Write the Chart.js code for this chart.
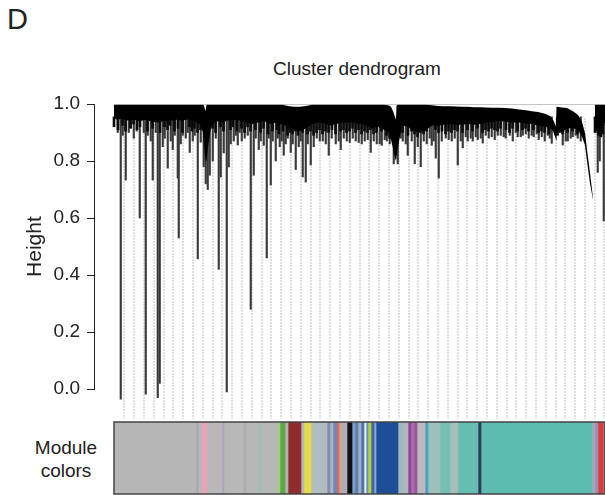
<!DOCTYPE html>
<html>
<head>
<meta charset="utf-8">
<script src="https://cdn.jsdelivr.net/npm/chart.js@4.4.1/dist/chart.umd.min.js"></script>
<style>
  body { margin: 0; background: #fff; width: 605px; height: 495px; position: relative; overflow: hidden;
         font-family: "Liberation Sans", Arial, sans-serif; color: #222; }
  canvas { position: absolute; left: 0; }
  #dendro { top: 0; }
  #colors { top: 420px; }
  .lab { position: absolute; white-space: nowrap; }
</style>
</head>
<body>
<div class="lab" style="left:7px;top:3px;font-size:29px">D</div>
<div class="lab" style="left:232px;top:58px;width:250px;text-align:center;font-size:19px">Cluster dendrogram</div>
<div class="lab" style="left:16px;top:436px;width:100px;text-align:center;font-size:19px;line-height:23px">Module<br>colors</div>
<canvas id="dendro" width="605" height="440"></canvas>
<canvas id="colors" width="605" height="75"></canvas>
<script>
// leaf order runs 0..491 along the dendrogram
const yTicks = [0, 0.2, 0.4, 0.6, 0.8, 1.0]

// dotted guide lines
const guideX = [10, 20, 30, 40, 50, 59, 69, 79, 89, 99, 108, 118, 128, 138, 148, 157, 167, 177, 187, 197,
  206, 216, 226, 236, 246, 255, 265, 275, 285, 295, 304, 314, 324, 334, 344, 353, 363, 373, 383, 393,
  402, 412, 422, 432, 442, 451, 461, 471, 481, 490]

// dense merged part of the tree: upper and lower edge
const coreX = [0, 3, 8, 14, 20, 26, 32, 38, 44, 50, 56, 62, 68, 74, 80, 86, 89, 90, 91.5, 92.5, 94, 97,
  102, 108, 114, 120, 126, 132, 138, 144, 150, 156, 162, 168, 174, 180, 186, 192, 198, 204, 210, 216,
  222, 228, 234, 240, 246, 252, 258, 264, 270, 275, 277, 279, 281, 282, 282.5, 284, 288, 294, 300, 306,
  312, 318, 324, 330, 336, 342, 348, 354, 360, 366, 372, 378, 384, 391, 398, 405, 412, 418, 424, 431,
  436, 439, 441, 442, 442.5, 443, 448, 453, 459, 464, 468, 471, 473, 476, 479, 480, 481, 484, 487, 491]
const coreTop = [.997, .997, .997, .997, .997, .997, .997, .997, .997, .997, .997, .997, .997, .997, .997,
  .997, .997, .995, .975, .997, .997, .997, .997, .997, .997, .997, .997, .997, .997, .997, .997, .997,
  .997, .997, .993, .99, .99, .993, .997, .997, .997, .997, .997, .997, .997, .997, .997, .997, .997,
  .997, .997, .995, .99, .975, .955, .945, .995, .997, .997, .997, .997, .997, .997, .996, .993, .992, .992,
  .991, .99, .99, .989, .989, .988, .987, .987, .986, .984, .981, .978, .975, .972, .966, .958, .945,
  .93, .92, .99, .99, .988, .986, .975, .961, .937, .898, .84, .758, .67, null, .997, .997, .997, .997]
const coreLow = [.95, .945, .948, .942, .945, .94, .945, .938, .935, .94, .94, .945, .942, .946, .94, .93,
  .90, .85, .80, .80, .85, .92, .94, .935, .942, .945, .942, .936, .93, .935, .94, .93, .935, .928, .92,
  .91, .905, .915, .93, .935, .932, .925, .93, .935, .936, .935, .93, .925, .915, .92, .91, .90, .875, .845,
  .81, .80, .80, .85, .925, .92, .905, .90, .91, .925, .925, .927, .93, .927, .927, .93, .927, .93, .935,
  .937, .94, .939, .935, .935, .932, .93, .925, .92, .915, .905, .885, .875, .87, .915, .90, .915, .915,
  .91, .885, .855, .80, .72, .665, null, .92, .885, .92, .935]

// single leaves hanging below the dense part
const dropX = [3, 6, 8, 11, 14, 16, 19, 22, 25, 29, 31, 33, 36, 38, 41, 43, 45, 48, 50, 53, 56, 58, 60,
  63, 64, 66, 68, 71, 73, 75, 78, 80, 83, 86, 89, 91, 93, 95, 98, 101, 104, 106, 109, 112, 114, 116, 119,
  121, 123, 125, 127, 130, 133, 136, 139, 141, 144, 146, 149, 152, 154, 156, 158, 161, 163, 165, 167, 169,
  171, 173, 176, 178, 181, 184, 186, 188, 191, 193, 196, 199, 202, 205, 208, 211, 214, 217, 221, 224, 226,
  229, 232, 235, 238, 241, 244, 247, 250, 253, 256, 259, 262, 265, 267, 270, 272, 275, 279, 283, 286, 288,
  291, 293, 297, 300, 303, 306, 309, 312, 315, 317, 319, 321, 324, 327, 331, 334, 337, 340, 343, 346, 348,
  351, 353, 356, 358, 361, 363, 366, 368, 371, 374, 377, 380, 383, 386, 389, 391, 395, 398, 401, 403, 406,
  408, 411, 414, 417, 419, 422, 424, 427, 430, 433, 435, 437, 448, 451, 453, 456, 458, 461, 463, 466, 483,
  485, 489]
const dropLow = [.90, -.035, .89, .733, .90, .916, .88, .905, .60, .90, -.018, .89, .87, .733, .90, -.03,
  .02, .85, .88, .775, .87, .84, .89, .74, .53, .86, .89, .88, .90, .83, .87, .89, .457, .866, .78, .72,
  .70, .75, .80, .88, .42, .744, .828, -.01, .779, .86, .87, .89, .856, .90, .87, .88, .89, .28, .75, .88,
  .84, .87, .855, .46, .88, .716, .87, .80, .88, .85, .87, .82, .86, .88, .83, .86, .77, .85, .87, .744,
  .726, .86, .786, .85, .88, .87, .87, .86, .82, .88, .86, .87, .84, .88, .87, .865, .88, .87, .865, .86,
  .87, .875, .83, .87, .86, .86, .855, .875, .87, .86, .79, .79, .88, .87, .86, .82, .87, .79, .85, .78,
  .87, .86, .88, .855, .87, .81, .74, .87, .88, .875, .87, .88, .786, .87, .846, .885, .87, .88, .87, .885,
  .875, .88, .863, .89, .88, .885, .875, .89, .89, .885, .88, .89, .87, .90, .885, .885, .89, .895, .88,
  .89, .885, .895, .875, .885, .87, .89, .88, .862, .856, .87, .87, .88, .885, .89, .88, .87, .76, .80, .59]
const dropTop = 0.955

// short leaves filling the dense fringe
const shortX = [1, 5, 9.5, 12.5, 17.5, 20.5, 24, 27, 34.5, 39.5, 47, 51.5, 54.5, 57, 61.5, 65, 69.5, 76.5,
  79, 81.5, 84.5, 87.5, 99.5, 102.5, 107.5, 110.5, 117.5, 120, 124, 128.5, 131.5, 134.5, 137.5, 142.5,
  147.5, 150.5, 155, 159.5, 164, 166, 170, 174.5, 177, 179.5, 182.5, 185, 189.5, 194.5, 197.5, 200.5,
  203.5, 206.5, 209.5, 212.5, 215.5, 219, 222.5, 227.5, 230.5, 233.5, 236.5, 239.5, 242.5, 245.5, 248.5,
  251.5, 254.5, 257.5, 260.5, 263.5, 268.5, 273.5, 276.5, 284.5, 289.5, 295, 298.5, 301.5, 304.5, 307.5,
  310.5, 313.5, 322.5, 325.5, 329, 332.5, 335.5, 338.5, 341.5, 344.5, 349.5, 354.5, 359.5, 364.5, 369.5,
  372.5, 375.5, 378.5, 381.5, 384.5, 387.5, 393, 396.5, 399.5, 404.5, 409.5, 412.5, 415.5, 420.5, 425.5,
  428.5, 431.5, 436, 444.5, 446.5, 449.5, 454.5, 459.5, 464.5, 482, 486.5, 488, 490]
const shortLow = [.92, .91, .925, .905, .915, .93, .91, .92, .905, .915, .90, .92, .91, .925, .905, .915,
  .90, .92, .905, .915, .90, .91, .915, .90, .92, .905, .91, .92, .905, .915, .90, .92, .905, .91, .90,
  .915, .895, .905, .91, .895, .905, .89, .90, .895, .905, .89, .90, .895, .905, .89, .90, .91, .895,
  .905, .90, .91, .895, .905, .91, .90, .905, .915, .90, .91, .895, .905, .90, .91, .895, .90, .905, .89,
  .88, .895, .90, .89, .905, .895, .885, .90, .895, .905, .91, .90, .905, .895, .905, .90, .91, .905,
  .90, .91, .905, .915, .90, .91, .905, .915, .91, .905, .915, .91, .90, .915, .905, .91, .915, .905,
  .91, .90, .905, .90, .895, .89, .90, .895, .90, .905, .895, .90, .89, .885, .895, .90]

// module colour strip, left to right
const moduleWidths = [82, 2, 4, 5, 15, 2, 19, 3, 12, 3, 16, 3, 5, 3, 13, 3, 7, 7, 5, 4, 3, 3, 4, 2, 3, 5,
  5, 3, 3, 3, 3, 2, 2, 3, 3, 2, 22, 4, 6, 3, 3, 3, 8, 3, 12, 10, 8, 20, 3, 111, 3, 3, 5, 2]
const moduleColors = ["#b6b6b6", "#a8a6b0", "#b8b8b8", "#e9a3b4", "#b9b7b9", "#aaa6ba", "#b8b8b8",
  "#a9b1b7", "#b7b7b7", "#9fbdb9", "#b5b8b7", "#a3c98a", "#5aaa42", "#b3b3b3", "#8e2c30", "#b8b8b8",
  "#e4dd49", "#b4bcc0", "#a8bfc3", "#b8b8b8", "#7d8fb5", "#aab4c0", "#6e88b0", "#e06c5e", "#d0a58a",
  "#a9b0bc", "#111111", "#7f9fc4", "#5c7fb0", "#9fb3c6", "#4f74ad", "#e8eef2", "#6f8fbf", "#b5d23c",
  "#3f65a6", "#8ea9cf", "#1f4e98", "#9fb8c0", "#adb8bd", "#8e4a96", "#b06aa8", "#8b5aa0", "#c0b8c0",
  "#4aa3c0", "#9cc0bc", "#74beb4", "#a8bdbb", "#66bdb2", "#2c3c5a", "#5cbcb0", "#a7a7b8", "#9a8fb0",
  "#e0393a", "#8a8a8a"]

Chart.defaults.font.family = '"Liberation Sans", Arial, sans-serif'
Chart.defaults.color = "#222"

const guideData = guideX.flatMap(x => [{x, y: 0.95}, {x, y: -0.105}, {x, y: null}])

const axisPlugin = {
  id: "axisLine",
  afterDraw(chart) {
    const {ctx, chartArea, scales} = chart
    const y0 = scales.y.getPixelForValue(0)
    const y1 = scales.y.getPixelForValue(1)
    ctx.save()
    ctx.strokeStyle = "#222"
    ctx.lineWidth = 1
    ctx.beginPath()
    ctx.moveTo(chartArea.left - 0.5, y0)
    ctx.lineTo(chartArea.left - 0.5, y1)
    ctx.stroke()
    ctx.fillStyle = "#222"
    ctx.font = '21px "Liberation Sans", Arial, sans-serif'
    ctx.translate(35, (y0 + y1) / 2)
    ctx.rotate(-Math.PI / 2)
    ctx.textAlign = "center"
    ctx.textBaseline = "middle"
    ctx.fillText("Height", 0, 0)
    ctx.restore()
  }
}

new Chart(document.getElementById("dendro"), {
  type: "line",
  data: {
    datasets: [
      {
        label: "guides", data: guideData, borderColor: "#b8b8b8", borderWidth: 1.2,
        borderDash: [1.5, 1.5], pointRadius: 0, spanGaps: false, order: 7,
      },
      {
        type: "bar", label: "leaves", data: dropX.map((x, i) => ({x, y: [dropLow[i], dropTop]})),
        backgroundColor: "#3a3a3a", barThickness: 1.5, order: 5,
      },
      {
        label: "top", data: coreX.map((x, i) => ({x, y: coreTop[i]})), borderWidth: 0,
        pointRadius: 0, fill: false, order: 3,
      },
      {
        label: "core", data: coreX.map((x, i) => ({x, y: coreLow[i]})), borderWidth: 0,
        pointRadius: 0, fill: "-1", backgroundColor: "#000", order: 2,
      },
      {
        label: "root", data: [{x: 0, y: 1}, {x: 491, y: 1}], borderColor: "#8a8a8a",
        borderWidth: 1.2, pointRadius: 0, order: 1,
      },
      {
        type: "bar", label: "fringe", data: shortX.map((x, i) => ({x, y: [shortLow[i], dropTop]})),
        backgroundColor: "#0a0a0a", barThickness: 2, order: 4,
      },
    ],
  },
  options: {
    responsive: false,
    animation: false,
    events: [],
    layout: { padding: { top: 104, bottom: 21, left: 0, right: 0 } },
    plugins: { legend: { display: false }, tooltip: { enabled: false } },
    scales: {
      x: { type: "linear", min: -19, max: 491, offset: false, display: false },
      y: {
        min: -0.105, max: 1.0,
        afterBuildTicks: s => { s.ticks = yTicks.map(v => ({value: v})) },
        afterFit: s => { s.width = 95 },
        ticks: { callback: v => v.toFixed(1), font: { size: 19 }, color: "#222", padding: 7 },
        grid: { drawOnChartArea: false, drawTicks: true, tickLength: 8, color: "#222", lineWidth: 1 },
        border: { display: false },
      },
    },
  },
  plugins: [axisPlugin],
})

const framePlugin = {
  id: "frame",
  afterDraw(chart) {
    const {ctx, chartArea: a} = chart
    ctx.save()
    ctx.strokeStyle = "#444"
    ctx.lineWidth = 1.5
    ctx.strokeRect(a.left, a.top, a.right - a.left, a.bottom - a.top)
    ctx.restore()
  }
}

new Chart(document.getElementById("colors"), {
  type: "bar",
  data: {
    labels: ["modules"],
    datasets: moduleWidths.map((w, i) => ({
      data: [w], backgroundColor: moduleColors[i], borderWidth: 0,
      barPercentage: 1, categoryPercentage: 1,
    })),
  },
  options: {
    indexAxis: "y",
    responsive: false,
    animation: false,
    events: [],
    layout: { padding: { top: 2, bottom: 1, left: 114, right: 0 } },
    plugins: { legend: { display: false }, tooltip: { enabled: false } },
    scales: {
      x: { type: "linear", min: 0, max: 491, stacked: true, display: false },
      y: { stacked: true, display: false },
    },
  },
  plugins: [framePlugin],
})
</script>
</body>
</html>
